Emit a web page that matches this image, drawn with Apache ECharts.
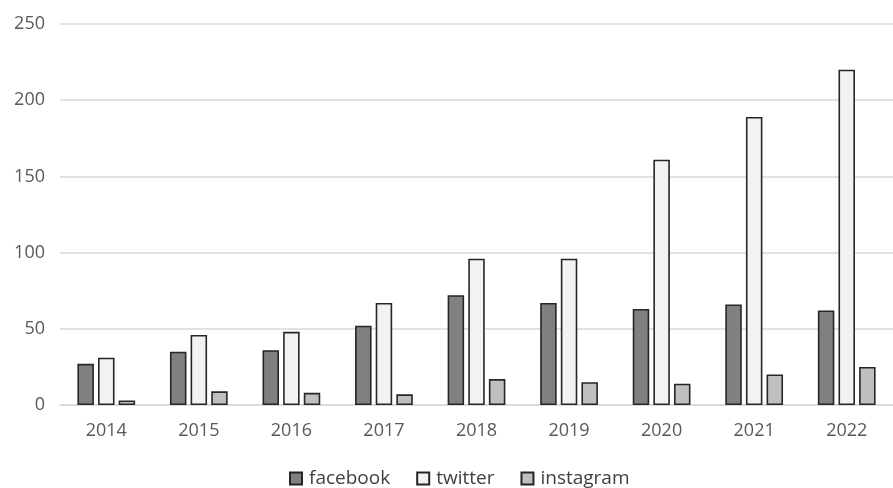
<!DOCTYPE html>
<html>
<head>
<meta charset="utf-8">
<script src="https://cdn.jsdelivr.net/npm/echarts@6/dist/echarts.min.js"></script>
<style>
html,body{margin:0;padding:0;background:#fff;}
#chart{width:893px;height:488px;}
</style>
</head>
<body>
<div id="chart"></div>
<script>
const categories = ['2014','2015','2016','2017','2018','2019','2020','2021','2022'];
const facebook = [27, 35, 36, 52, 72, 67, 63, 66, 62];
const twitter = [31, 46, 48, 67, 96, 96, 161, 189, 220];
const instagram = [3, 9, 8, 7, 17, 15, 14, 20, 25];
const yTicks = {min: 0, max: 250, interval: 50};

const chart = echarts.init(document.getElementById('chart'), null, {renderer: 'canvas'});
const font = 'Open Sans, Noto Sans, sans-serif';
const border = {borderColor: '#262626', borderWidth: 1.6};
function mk(name, data, color) {
  return {
    name: name, type: 'bar', data: data, barWidth: 16.5, barGap: '25%',
    itemStyle: Object.assign({color: color}, border),
    emphasis: {disabled: true}
  };
}
chart.setOption({
  animation: false,
  backgroundColor: '#ffffff',
  grid: {left: 60, top: 24, width: 846, height: 381, containLabel: false},
  legend: {
    top: 469, left: 289, itemWidth: 12, itemHeight: 12, itemGap: 26,
    icon: 'rect', padding: 0,
    textStyle: {fontFamily: font, fontSize: 19, color: '#404040', padding: [0, 0, 0, 2]},
    data: ['facebook', 'twitter', 'instagram']
  },
  xAxis: {
    type: 'category', data: categories,
    axisTick: {show: false},
    axisLine: {lineStyle: {color: '#d9d9d9', width: 1.5}},
    axisLabel: {fontFamily: font, fontSize: 18, color: '#595959', margin: 17}
  },
  yAxis: {
    type: 'value', min: yTicks.min, max: yTicks.max, interval: yTicks.interval,
    axisLine: {show: false}, axisTick: {show: false},
    splitLine: {lineStyle: {color: '#d9d9d9', width: 1.5}},
    axisLabel: {fontFamily: font, fontSize: 18, color: '#595959', margin: 15}
  },
  series: [
    mk('facebook', facebook, '#808080'),
    mk('twitter', twitter, '#f2f2f2'),
    mk('instagram', instagram, '#bfbfbf')
  ]
});
</script>
</body>
</html>
